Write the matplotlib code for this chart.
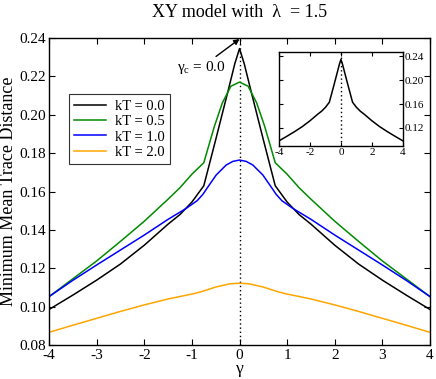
import matplotlib
matplotlib.use('Agg')
import matplotlib.pyplot as plt

plt.rcParams['font.family'] = ['Liberation Serif', 'DejaVu Serif']
plt.rcParams['mathtext.fontset'] = 'custom'
plt.rcParams['mathtext.rm'] = 'Liberation Serif'
plt.rcParams['mathtext.it'] = 'Liberation Serif:italic'

# kT = 0.0
gamma_t0 = [-4, -3.5, -3, -2.5, -2, -1.5, -1.25, -1, -0.75, -0.5, -0.25, -0.1, 0,
            0.1, 0.25, 0.5, 0.75, 1, 1.25, 1.5, 2, 2.5, 3, 3.5, 4]
dist_t0 = [0.0985, 0.1060, 0.1138, 0.1222, 0.1320, 0.1430, 0.1480, 0.1545, 0.1630,
           0.1870, 0.2115, 0.2265, 0.2345,
           0.2265, 0.2115, 0.1870, 0.1630, 0.1545, 0.1480, 0.1430, 0.1320, 0.1222,
           0.1138, 0.1060, 0.0985]

# kT = 0.5
gamma_t05 = [-4, -3.5, -3, -2.5, -2, -1.5, -1.25, -1, -0.75, -0.53, -0.36, -0.18, 0,
             0.18, 0.36, 0.53, 0.75, 1, 1.25, 1.5, 2, 2.5, 3, 3.5, 4]
dist_t05 = [0.1052, 0.1145, 0.1238, 0.1340, 0.1445, 0.1560, 0.1620, 0.1690, 0.1750,
            0.1938, 0.2062, 0.2149, 0.2170,
            0.2149, 0.2062, 0.1938, 0.1750, 0.1690, 0.1620, 0.1560, 0.1445, 0.1340,
            0.1238, 0.1145, 0.1052]

# kT = 1.0
gamma_t1 = [-4, -3.5, -3, -2.5, -2, -1.5, -1.12, -0.89, -0.77, -0.63, -0.49, -0.28, -0.14, 0,
            0.14, 0.28, 0.49, 0.63, 0.77, 0.89, 1.12, 1.5, 2, 2.5, 3, 3.5, 4]
dist_t1 = [0.1052, 0.1137, 0.1217, 0.1295, 0.1373, 0.1455, 0.1512, 0.1552, 0.1585,
           0.1636, 0.1686, 0.1738, 0.1757, 0.1764,
           0.1757, 0.1738, 0.1686, 0.1636, 0.1585, 0.1552, 0.1512, 0.1455, 0.1373,
           0.1295, 0.1217, 0.1137, 0.1052]

# kT = 2.0
gamma_t2 = [-4, -3.5, -3, -2.5, -2, -1.5, -0.97, -0.8, -0.5, -0.2, 0,
            0.2, 0.5, 0.8, 0.97, 1.5, 2, 2.5, 3, 3.5, 4]
dist_t2 = [0.0866, 0.0903, 0.0939, 0.0975, 0.1009, 0.1040, 0.1067, 0.1078, 0.1102,
           0.1119, 0.1122,
           0.1119, 0.1102, 0.1078, 0.1067, 0.1040, 0.1009, 0.0975, 0.0939, 0.0903, 0.0866]

x_ticks = [-4, -3, -2, -1, 0, 1, 2, 3, 4]
y_ticks = [0.08, 0.10, 0.12, 0.14, 0.16, 0.18, 0.20, 0.22, 0.24]
inset_x_ticks = [-4, -2, 0, 2, 4]
inset_y_ticks = [0.12, 0.16, 0.20, 0.24]


fig = plt.figure(figsize=(4.36, 3.79), dpi=100)
ax = fig.add_axes([0.1124, 0.0897, 0.8739, 0.81])

ax.axvline(0, color='black', linestyle=(0, (1, 2)), linewidth=1.0)
ax.plot(gamma_t0, dist_t0, color='black', linewidth=1.1, label='kT = 0.0')
ax.plot(gamma_t05, dist_t05, color='#008b00', linewidth=1.1, label='kT = 0.5')
ax.plot(gamma_t1, dist_t1, color='#0000ff', linewidth=1.1, label='kT = 1.0')
ax.plot(gamma_t2, dist_t2, color='#ffa500', linewidth=1.1, label='kT = 2.0')

ax.set_xlim(-4, 4)
ax.set_ylim(0.08, 0.24)
ax.set_xticks(x_ticks)
ax.set_xticklabels([str(t) for t in x_ticks])
ax.set_yticks(y_ticks)
ax.set_yticklabels(['%.2f' % t for t in y_ticks])
ax.tick_params(direction='in', top=True, right=True, length=4, width=0.8,
               labelsize=11, pad=2)
ax.tick_params(axis='x', pad=3)
for s in ax.spines.values():
    s.set_linewidth(1.0)
ax.set_xlabel('γ', fontsize=12.5, labelpad=-1)
ax.set_ylabel('Minimum Mean Trace Distance', fontsize=13, labelpad=2)

leg = ax.legend(loc='upper left', bbox_to_anchor=(0.052, 0.816), fontsize=10.5,
                frameon=True, fancybox=False, edgecolor='black', handlelength=2.2,
                handletextpad=0.6, borderpad=0.35, labelspacing=0.15, borderaxespad=0)
leg.get_frame().set_linewidth(0.8)

ax.annotate('γ$_\\mathrm{c}$ = 0.0', xy=(0, 0.2395), xytext=(-0.3, 0.2245),
            ha='right', va='center', fontsize=11,
            arrowprops=dict(arrowstyle='-|>', color='black', lw=1.0,
                            mutation_scale=8, shrinkA=0, shrinkB=0))

fig.text(0.549, 0.967, 'XY model with  λ  = 1.5', ha='center', va='center', fontsize=13)

# inset with the kT = 0 curve
ins = fig.add_axes([0.640, 0.615, 0.284, 0.248])
ins.axvline(0, color='black', linestyle=(0, (1, 2)), linewidth=1.0)
ins.plot(gamma_t0, dist_t0, color='black', linewidth=1.1)
ins.set_xlim(-4, 4)
ins.set_ylim(0.09, 0.247)
ins.set_xticks(inset_x_ticks)
ins.set_xticklabels([str(t) for t in inset_x_ticks])
ins.set_yticks(inset_y_ticks)
ins.set_yticklabels(['%.2f' % t for t in inset_y_ticks])
ins.tick_params(direction='in', top=True, right=True, left=True, labelleft=False,
                labelright=True, length=3, width=0.8, labelsize=8, pad=1.5)
for s in ins.spines.values():
    s.set_linewidth(1.0)

fig.savefig('out.png', dpi=100)
